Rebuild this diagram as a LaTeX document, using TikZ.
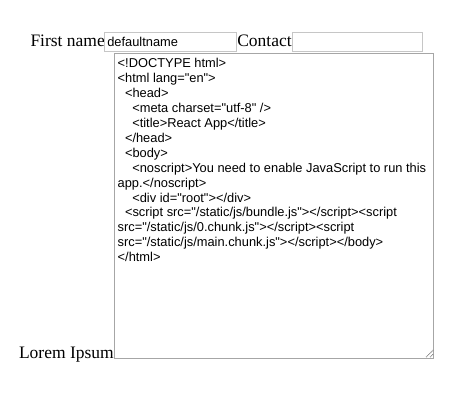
\documentclass[tikz,border=0pt]{standalone}
\usepackage{fontspec}
\setmainfont{Liberation Serif}
\newfontfamily\uisans{Liberation Sans}
\definecolor{inputborder}{RGB}{198,198,198}
\definecolor{areaborder}{RGB}{166,166,166}
\definecolor{handlecol}{RGB}{130,130,130}
\begin{document}
\begin{tikzpicture}[x=1pt,y=-1pt,
  lbl/.style={inner sep=0pt,outer sep=0pt,anchor=base west,font=\fontsize{17.5pt}{20pt}\selectfont},
  codeline/.style={inner sep=0pt,outer sep=0pt,anchor=base west,font=\uisans\fontsize{12.85pt}{15pt}\selectfont},
  inputbox/.style={draw=inputborder,line width=1pt,inner sep=0pt,outer sep=0pt,anchor=north west},
  areabox/.style={draw=areaborder,line width=1pt,inner sep=0pt,outer sep=0pt,anchor=north west},
  handle/.style={draw=handlecol,line width=0.8pt,dash pattern=on 1pt off 0.6pt}]
\useasboundingbox (0,0) rectangle (473,415);
% labels
\node[lbl] (lfirst) at (30.5,46.5) {First name};
\node[lbl] (lcontact) at (237.3,46.5) {Contact};
\node[lbl] (llorem) at (19,358.3) {Lorem Ipsum};
% inputs
\node[inputbox,minimum width=131.4pt,minimum height=19pt] (first) at (104.8,32.8) {};
\node[inputbox,minimum width=130pt,minimum height=19pt] (contact) at (292.8,32.8) {};
\node[codeline] (firstval) at (107.3,46.7) {defaultname};
% textarea
\node[areabox,minimum width=319pt,minimum height=304.7pt] (area) at (114.8,53.8) {};
\coordinate (h1a) at (426,357.2);
\coordinate (h1b) at (433.3,349.9);
\coordinate (h2a) at (430,357.2);
\coordinate (h2b) at (433.3,353.9);
\draw[handle] (h1a) -- (h1b);
\draw[handle] (h2a) -- (h2b);
% code text
\node[codeline] (c1) at (117.7,67.7) {<!DOCTYPE html>};
\node[codeline] (c2) at (117.7,82.6) {<html lang="en">};
\node[codeline] (c3) at (125.0,97.5) {<head>};
\node[codeline] (c4) at (132.3,112.5) {<meta charset="utf-8" />};
\node[codeline] (c5) at (132.3,127.4) {<title>React App</title>};
\node[codeline] (c6) at (125.0,142.3) {</head>};
\node[codeline] (c7) at (125.0,157.2) {<body>};
\node[codeline] (c8) at (132.3,172.1) {<noscript>You need to enable JavaScript to run this};
\node[codeline] (c9) at (117.7,187.1) {app.</noscript>};
\node[codeline] (c10) at (132.3,202.0) {<div id="root"></div>};
\node[codeline] (c11) at (125.0,216.9) {<script src="/static/js/bundle.js"></script><script};
\node[codeline] (c12) at (117.7,231.8) {src="/static/js/0.chunk.js"></script><script};
\node[codeline] (c13) at (117.7,246.8) {src="/static/js/main.chunk.js"></script></body>};
\node[codeline] (c14) at (117.7,261.7) {</html>};
\end{tikzpicture}
\end{document}
